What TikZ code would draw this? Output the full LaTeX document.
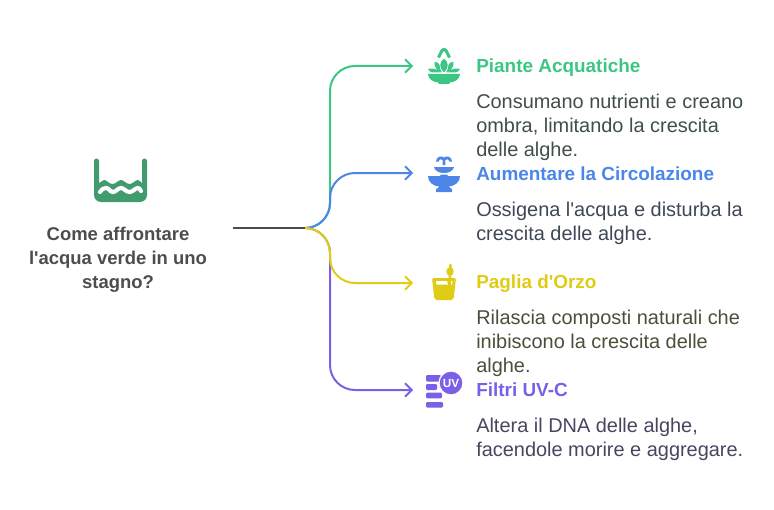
\documentclass[tikz,border=0pt]{standalone}
\usepackage{fontspec}
\setmainfont{Liberation Sans}[Ligatures=TeXOff]
\usetikzlibrary{arrows.meta}
\definecolor{cgreen}{HTML}{3CC583}
\definecolor{cblue}{HTML}{4B86E8}
\definecolor{cyellow}{HTML}{E0CB15}
\definecolor{cpurple}{HTML}{7A5FE8}
\definecolor{cpond}{HTML}{429B6F}
\definecolor{cdark}{HTML}{4D4D4D}
\definecolor{dgreen}{HTML}{3F4F48}
\definecolor{dblue}{HTML}{3F4757}
\definecolor{dyellow}{HTML}{4D4D3A}
\definecolor{dpurple}{HTML}{47465F}
\tikzset{
  titlenode/.style={anchor=base west,inner sep=0pt,font=\fontsize{14.2}{17}\selectfont\bfseries},
  descnode/.style={anchor=north west,inner sep=0pt,align=left,font=\fontsize{14.95}{17.8}\selectfont},
  link/.style={line width=1.5pt,rounded corners=18.75pt,-{Straight Barb[length=5pt,width=10pt,line width=1.4pt]},line cap=round}
}
\begin{document}
\begin{tikzpicture}[x=0.75pt,y=-0.75pt]
\useasboundingbox (0,0) rectangle (774,510);
% anchors
\coordinate (src) at (233,228);
\coordinate (hub) at (305,228);
\coordinate (bend) at (330,228);
\coordinate (a1) at (413,66);
\coordinate (a2) at (413,173);
\coordinate (a3) at (413,283);
\coordinate (a4) at (413,390);
% connectors
\draw[link,cgreen] (hub) -- (bend) -- (bend |- a1) -- (a1);
\draw[link,cpurple] (hub) -- (bend) -- (bend |- a4) -- (a4);
\draw[link,cblue] (hub) -- (bend) -- (bend |- a2) -- (a2);
\draw[link,cyellow] (hub) -- (bend) -- (bend |- a3) -- (a3);
\draw[line width=1.5pt,cdark] (src) -- (hub);
% pond icon
\fill[cpond] (94,161) arc[start angle=180,end angle=360,radius=2.5] -- (99,183)
  .. controls (101,183) and (102,180) .. (104,180) .. controls (107,180) and (109,184) .. (112.5,184)
  .. controls (116,184) and (118,180) .. (121,180) .. controls (124,180) and (126,184) .. (129.5,184)
  .. controls (133,184) and (135,180) .. (138,180) .. controls (140,180) and (141,183) .. (142,183)
  -- (142,161) arc[start angle=180,end angle=360,radius=2.5] -- (147,195)
  arc[start angle=0,end angle=90,radius=7] -- (101,202) arc[start angle=90,end angle=180,radius=7] -- cycle;
\draw[white,line width=3.1pt,line cap=round] (100,192) .. controls (102,189) and (104,188) .. (106,188)
  .. controls (109,188) and (110,192) .. (113,192) .. controls (116,192) and (118,188) .. (121,188)
  .. controls (124,188) and (126,192) .. (129.5,192) .. controls (133,192) and (135,188) .. (138,188) .. controls (139,188) and (140,189) .. (141,191);
% plant icon
\fill[cgreen] (428,74) -- (460,74) .. controls (460,79) and (455,82) .. (450,82.5) -- (449,84) -- (439,84) -- (438,82.5) .. controls (433,82) and (428,79) .. (428,74) -- cycle;
\fill[cgreen] (428,69) .. controls (432,68) and (437,68.5) .. (441,72.5) -- (433,72.5) .. controls (431,72.5) and (429,71) .. (428,69) -- cycle;
\fill[cgreen] (460,69) .. controls (456,68) and (451,68.5) .. (447,72.5) -- (455,72.5) .. controls (457,72.5) and (459,71) .. (460,69) -- cycle;
\fill[cgreen] (444,58.5) .. controls (449,62) and (449,68) .. (444,72.5) .. controls (439,68) and (439,62) .. (444,58.5) -- cycle;
\fill[cgreen] (434.5,62) .. controls (437,61.5) and (439,63) .. (439.5,65) .. controls (439.5,68) and (440.5,70) .. (442,72.5) .. controls (437,71) and (434,67) .. (434.5,62) -- cycle;
\fill[cgreen] (453.5,62) .. controls (451,61.5) and (449,63) .. (448.5,65) .. controls (448.5,68) and (447.5,70) .. (446,72.5) .. controls (451,71) and (454,67) .. (453.5,62) -- cycle;
\draw[cgreen,line width=2.3pt,line join=round] (438.5,57.5) -- (442,50.5) .. controls (443,49) and (445,49) .. (446,50.5) -- (449.5,57.5);
% fountain icon
\fill[cblue] (434,167) -- (454,167) .. controls (453,171) and (449,173) .. (444,173) .. controls (439,173) and (435,171) .. (434,167) -- cycle;
\fill[cblue] (428,176) -- (440,176) -- (441,174.5) -- (447,174.5) -- (448,176) -- (460,176) .. controls (460,182) and (455,186) .. (449,186.5) -- (450,188) -- (452,189) -- (452,192) -- (436,192) -- (436,189) -- (438,188) -- (439,186.5) .. controls (433,186) and (428,182) .. (428,176) -- cycle;
\fill[cblue] (442.7,165) -- (442.7,160) .. controls (441,158.5) and (439,159) .. (438.5,161.5) -- (436,161.5) .. controls (436,157) and (441,155) .. (444,157.5) .. controls (447,155) and (452,157) .. (452,161.5) -- (449.5,161.5) .. controls (449,159) and (447,158.5) .. (445.3,160) -- (445.3,165) -- cycle;
% barley cup icon
\fill[cyellow,rounded corners=1.5pt] (432,278) -- (456,278) -- (453.5,300) -- (434.5,300) -- cycle;
\fill[white] (436,281) -- (447,281) -- (448,284.5) -- (436.4,284.5) -- cycle;
\fill[white] (450.5,281) -- (452.5,281) -- (452.2,284.5) -- (451,284.5) -- cycle;
\draw[cyellow,line width=1.9pt,line cap=round] (450.5,265) -- (449.5,284);
\fill[cyellow] (450,271.5) ellipse[x radius=3.6,y radius=4.5];
% UV icon
\fill[cpurple,rounded corners=0.8pt] (426,375) rectangle (441,381.5);
\fill[cpurple,rounded corners=0.8pt] (426,384) rectangle (437,390);
\fill[cpurple,rounded corners=0.8pt] (426,392.7) rectangle (442,398.3);
\fill[cpurple,rounded corners=0.8pt] (426,402) rectangle (443,407.5);
\fill[cpurple,draw=white,line width=0.9pt] (451,383) circle[radius=12];
\node[inner sep=0pt,text=white,font=\fontsize{8.8}{10}\selectfont\bfseries] (uv) at (451,383.5) {UV};
% source label
\node[anchor=north,inner sep=0pt,align=center,text=cdark,font=\fontsize{13.85}{18}\selectfont\bfseries] (q) at (118,226.5) {Come affrontare\\l'acqua verde in uno\\stagno?};
% titles
\node[titlenode,text=cgreen] (t1) at (476,72.5) {Piante Acquatiche};
\node[titlenode,text=cblue] (t2) at (476,180) {Aumentare la Circolazione};
\node[titlenode,text=cyellow] (t3) at (476,288) {Paglia d'Orzo};
\node[titlenode,text=cpurple] (t4) at (476,396) {Filtri UV-C};
% descriptions
\node[descnode,text=dgreen] (d1) at (476,94) {Consumano nutrienti e creano\\ombra, limitando la crescita\\delle alghe.};
\node[descnode,text=dblue] (d2) at (476,202) {Ossigena l'acqua e disturba la\\crescita delle alghe.};
\node[descnode,text=dyellow] (d3) at (476,310) {Rilascia composti naturali che\\inibiscono la crescita delle\\alghe.};
\node[descnode,text=dpurple] (d4) at (476,418) {Altera il DNA delle alghe,\\facendole morire e aggregare.};
\end{tikzpicture}
\end{document}
